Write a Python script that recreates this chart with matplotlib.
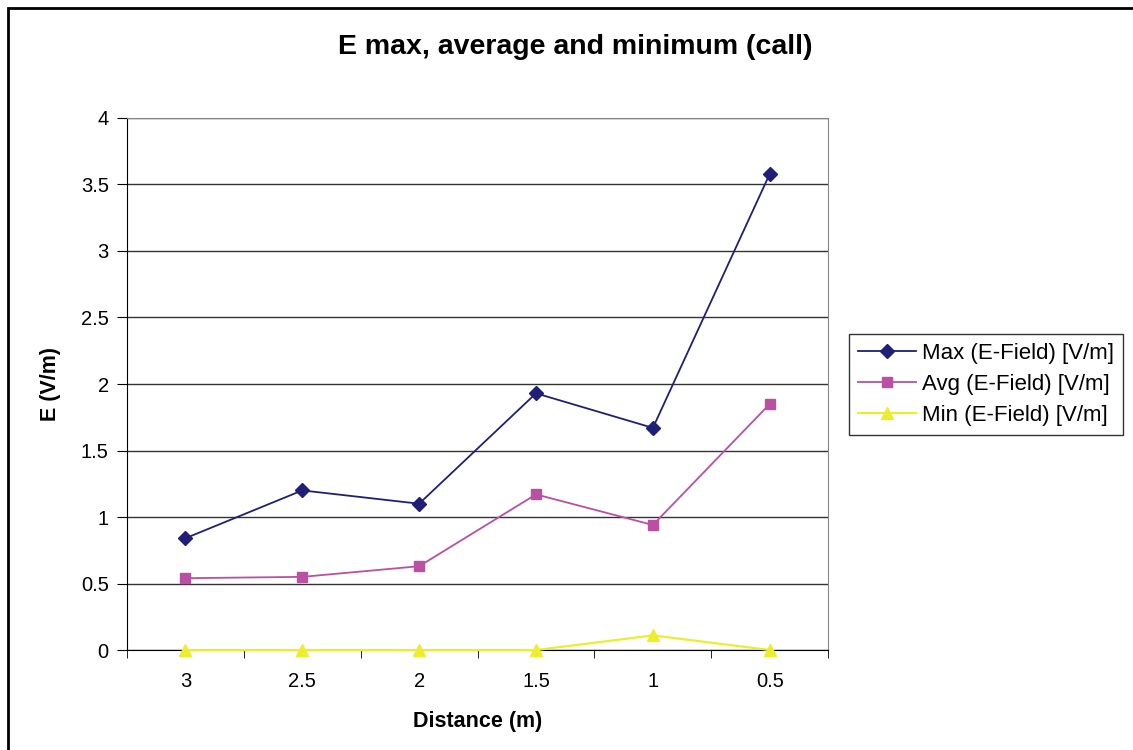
import numpy as np
import matplotlib
matplotlib.use('Agg')
import matplotlib.pyplot as plt
from matplotlib.patches import Rectangle

plt.rcParams['font.family'] = ['Liberation Sans', 'DejaVu Sans']

distance = ['3', '2.5', '2', '1.5', '1', '0.5']
e_max = [0.84, 1.20, 1.10, 1.93, 1.67, 3.58]
e_avg = [0.54, 0.55, 0.63, 1.17, 0.94, 1.85]
e_min = [0.0, 0.0, 0.0, 0.0, 0.11, 0.0]

fig = plt.figure(figsize=(11.33, 7.5), dpi=100)
ax = fig.add_axes([0.112, 0.1333, 0.619, 0.7094])

x = np.arange(len(distance))
ax.plot(x, e_max, color='#1F1F78', marker='D', markersize=7, lw=1.3,
        label='Max (E-Field) [V/m]', zorder=4, clip_on=False)
ax.plot(x, e_avg, color='#BB4FA3', marker='s', markersize=7.5, lw=1.3,
        label='Avg (E-Field) [V/m]', zorder=3, clip_on=False)
ax.plot(x, e_min, color='#EDED30', marker='^', markersize=9, lw=1.6,
        label='Min (E-Field) [V/m]', zorder=5, clip_on=False)

ax.set_xlim(-0.5, len(distance) - 0.5)
ax.set_ylim(0, 4)
ax.set_yticks(np.arange(0, 4.01, 0.5))
ax.set_yticklabels(['0', '0.5', '1', '1.5', '2', '2.5', '3', '3.5', '4'])
ax.set_xticks(x)
ax.set_xticklabels(distance)
ax.set_xticks(np.arange(-0.5, len(distance), 1), minor=True)
ax.tick_params(axis='x', which='major', length=0, pad=16, labelsize=14.5)
ax.tick_params(axis='x', which='minor', length=6, direction='out', color='black')
ax.tick_params(axis='y', length=7, direction='out', labelsize=14.5, pad=6)
ax.yaxis.grid(True, color='#333333', lw=1)
ax.set_axisbelow(True)

for side in ['top', 'right']:
    ax.spines[side].set_color('#888888')
ax.spines['left'].set_color('black')
ax.spines['bottom'].set_color('black')

ax.set_xlabel('Distance (m)', fontsize=15.5, fontweight='bold', labelpad=14)
ax.set_ylabel('E (V/m)', fontsize=15.5, fontweight='bold', labelpad=14)
fig.text(0.508, 0.937, 'E max, average and minimum (call)', ha='center', va='center',
         fontsize=20.5, fontweight='bold')

leg = ax.legend(loc='upper left', bbox_to_anchor=(849 / 1133, 1 - 334 / 750),
                bbox_transform=fig.transFigure, borderaxespad=0, fontsize=16,
                frameon=True, fancybox=False, edgecolor='black', borderpad=0.4,
                handlelength=2.6, handletextpad=0.3, labelspacing=0.45)
leg.get_frame().set_linewidth(1)

fig.patches.append(Rectangle((0.007, -0.05), 1.1, 1.04, transform=fig.transFigure,
                             fill=False, edgecolor='black', lw=2))

fig.savefig('out.png', dpi=100)
